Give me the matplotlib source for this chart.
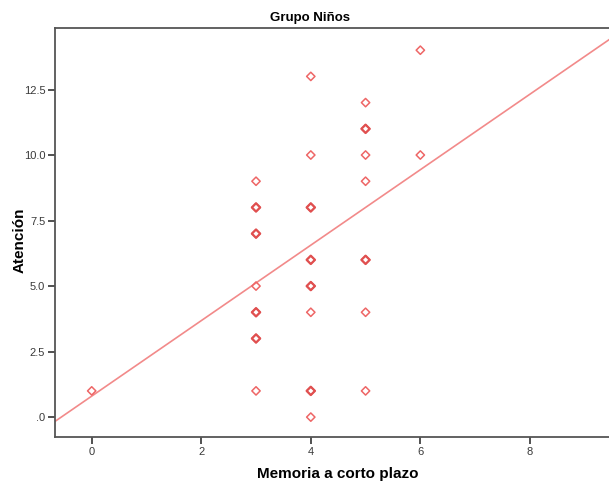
import matplotlib
matplotlib.use("Agg")
import numpy as np
import matplotlib.pyplot as plt

# ── Data ──────────────────────────────────────────────────────────────────────

memoria = [0,
           3, 3, 3, 3, 3, 3, 3,
           4, 4, 4, 4, 4, 4, 4, 4,
           5, 5, 5, 5, 5, 5, 5,
           6, 6]
atencion = [1,
            9, 8, 7, 5, 4, 3, 1,
            13, 10, 8, 6, 5, 4, 1, 0,
            12, 11, 10, 9, 6, 4, 1,
            14, 10]
# points drawn twice (several cases at the same spot)
repetidos_x = [3, 3, 3, 3, 4, 4, 4, 4, 5, 5]
repetidos_y = [8, 7, 4, 3, 8, 6, 5, 1, 11, 6]

fit_intercept = 0.80
fit_slope = 1.44

xticks = [0, 2, 4, 6, 8]
yticks = [0, 2.5, 5.0, 7.5, 10.0, 12.5]
ytick_labels = [".0", "2.5", "5.0", "7.5", "10.0", "12.5"]

# ── Plot ──────────────────────────────────────────────────────────────────────

red = "#ee6666"
tick_font = ["Liberation Sans Narrow", "Liberation Sans", "DejaVu Sans"]
label_font = ["Liberation Sans", "DejaVu Sans"]

fig = plt.figure(figsize=(6.09, 4.83), dpi=100)
ax = fig.add_axes([0.0903, 0.0952, 0.93, 0.847])

xmin, xmax = -0.67, 9.67
ax.set_xlim(xmin, xmax)
ax.set_ylim(-0.76, 14.85)

xs = np.array([xmin, xmax])
ax.plot(xs, fit_intercept + fit_slope * xs, color="#f28a8a", lw=1.2, zorder=2)

ax.scatter(memoria, atencion, marker="D", s=18, facecolors="none",
           edgecolors=red, linewidths=1.1, zorder=3)
ax.scatter(repetidos_x, repetidos_y, marker="D", s=18, facecolors="none",
           edgecolors="#e05050", linewidths=1.6, zorder=3)

ax.set_xticks(xticks)
ax.set_xticklabels([str(t) for t in xticks], family=tick_font, fontsize=8,
                   color="#3a3a3a")
ax.set_yticks(yticks)
ax.set_yticklabels(ytick_labels, family=tick_font, fontsize=8,
                   color="#3a3a3a")
ax.tick_params(direction="out", length=5, width=1.2, color="#333333", pad=2)

for side in ["top", "left", "bottom"]:
    ax.spines[side].set_color("#555555")
    ax.spines[side].set_linewidth(1.3)
ax.spines["right"].set_visible(False)

# axis titles and chart title placed in figure coordinates
fig.text(338 / 609, 1 - 474 / 483, "Memoria a corto plazo", family=label_font,
         fontsize=11, fontweight="bold", ha="center", va="center")
fig.text(20 / 609, 1 - 240 / 483, "Atención", family=label_font,
         fontsize=11, fontweight="bold", ha="center", va="center",
         rotation=90)
fig.text(310 / 609, 1 - 18 / 483, "Grupo Niños", family=tick_font,
         fontsize=9.5, fontweight="bold", ha="center", va="center")

fig.savefig("out.png", dpi=100)
